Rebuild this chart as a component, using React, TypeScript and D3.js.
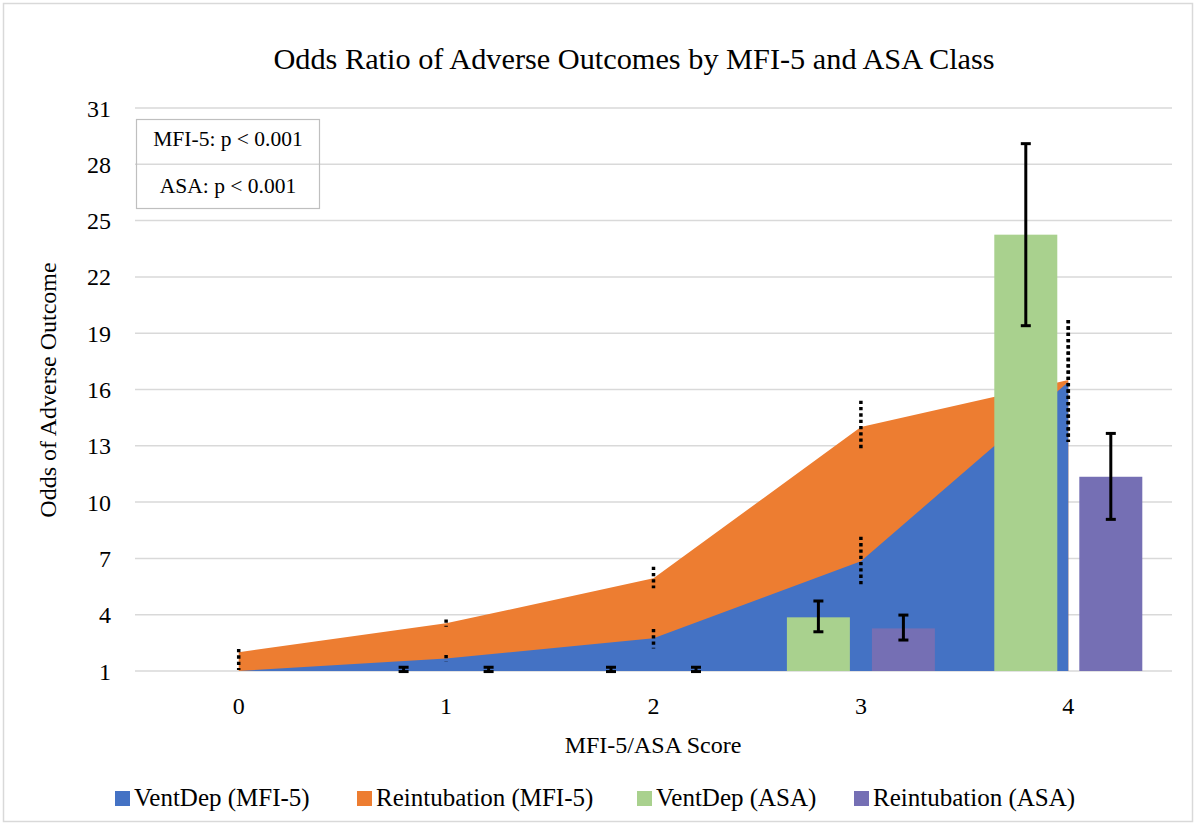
import React from "react";
import * as d3 from "d3";

const categories = ["0", "1", "2", "3", "4"];
const yTicks = [1, 4, 7, 10, 13, 16, 19, 22, 25, 28, 31];

// MFI-5 series (areas)
const ventDepMFI = [1, 1.67, 2.74, 6.85, 16.4];
const ventDepMFILow: (number | null)[] = [null, 1.5, 2.2, 5.58, 13.2];
const ventDepMFIHigh: (number | null)[] = [null, 1.85, 3.24, 8.15, 19.7];
const reintMFI = [2.0, 3.54, 5.94, 14.0, 16.5];
const reintMFILow: (number | null)[] = [1.05, 3.36, 5.41, 12.8, 13.2];
const reintMFIHigh: (number | null)[] = [2.17, 3.75, 6.56, 15.4, 19.7];

// ASA series (bars)
const ventDepASA: (number | null)[] = [null, 1, 1, 3.86, 24.25];
const ventDepASALow: (number | null)[] = [null, 0.97, 0.97, 3.09, 19.4];
const ventDepASAHigh: (number | null)[] = [null, 1.2, 1.2, 4.73, 29.1];
const reintASA: (number | null)[] = [null, 1, 1, 3.27, 11.35];
const reintASALow: (number | null)[] = [null, 0.97, 0.97, 2.65, 9.08];
const reintASAHigh: (number | null)[] = [null, 1.2, 1.2, 3.98, 13.66];

const seriesNames = ["VentDep (MFI-5)", "Reintubation (MFI-5)", "VentDep (ASA)", "Reintubation (ASA)"];
const seriesColors = ["#4472C4", "#ED7D31", "#A9D18E", "#756FB4"];
const annotations = ["MFI-5: p < 0.001", "ASA: p < 0.001"];

const FONT = "'Liberation Serif', 'Times New Roman', serif";

export default function App() {
  const W = 1200;
  const H = 827;
  const x = d3.scaleBand<string>().domain(categories).range([135, 1172]).padding(0);
  const y = d3.scaleLinear().domain([1, 31]).range([671, 108]);
  const xSub = d3
    .scaleBand<string>()
    .domain(["VentDep (ASA)", "Reintubation (ASA)"])
    .range([-74, 74])
    .paddingInner(0.259)
    .paddingOuter(0);
  const cx = (i: number) => (x(categories[i]) as number) + x.bandwidth() / 2;

  const area = d3
    .area<number>()
    .x((_, i) => cx(i))
    .y0(y(1))
    .y1((d) => y(d));

  const mfiSeries = [
    { vals: reintMFI, lo: reintMFILow, hi: reintMFIHigh, color: seriesColors[1] },
    { vals: ventDepMFI, lo: ventDepMFILow, hi: ventDepMFIHigh, color: seriesColors[0] },
  ];
  const asaSeries = [
    { name: "VentDep (ASA)", vals: ventDepASA, lo: ventDepASALow, hi: ventDepASAHigh, color: seriesColors[2] },
    { name: "Reintubation (ASA)", vals: reintASA, lo: reintASALow, hi: reintASAHigh, color: seriesColors[3] },
  ];

  const legendX = [115, 357, 637, 854];
  const bw = xSub.bandwidth();

  return (
    <svg width={W} height={H} style={{ position: "absolute", left: 0, top: 0 }} fontFamily={FONT}>
      <rect x={3.5} y={3.5} width={1189} height={818} fill="#fff" stroke="#D9D9D9" strokeWidth={1.5} />
      <text x={634} y={69} textAnchor="middle" fontSize={30.3} fill="#000">
        Odds Ratio of Adverse Outcomes by MFI-5 and ASA Class
      </text>
      {/* gridlines */}
      {yTicks.map((t) => (
        <line key={t} x1={135} x2={1172} y1={y(t)} y2={y(t)} stroke="#D9D9D9" strokeWidth={1.5} />
      ))}
      {yTicks.map((t) => (
        <text key={"l" + t} x={111} y={y(t) + 8.5} textAnchor="end" fontSize={24} fill="#000">
          {t}
        </text>
      ))}
      {/* annotation box */}
      <rect x={136.5} y={119.5} width={183} height={89} fill="none" stroke="#BFBFBF" strokeWidth={1.2} />
      {annotations.map((a, i) => (
        <text key={a} x={228} y={146 + i * 47} textAnchor="middle" fontSize={21.5} fill="#000">
          {a}
        </text>
      ))}
      {/* areas */}
      {mfiSeries.map((s, i) => (
        <path key={i} d={area(s.vals) || ""} fill={s.color} />
      ))}
      {/* bars */}
      {asaSeries.map((s) =>
        s.vals.map((v, i) =>
          v == null ? null : (
            <rect
              key={s.name + i}
              x={cx(i) + (xSub(s.name) as number)}
              y={y(v)}
              width={bw}
              height={y(1) - y(v)}
              fill={s.color}
            />
          )
        )
      )}
      {/* MFI error bars (dotted) */}
      {mfiSeries.map((s, si) =>
        s.vals.map((v, i) =>
          s.lo[i] == null || s.hi[i] == null ? null : (
            <line
              key={"me" + si + i}
              x1={cx(i)}
              x2={cx(i)}
              y1={y(s.hi[i] as number)}
              y2={y(s.lo[i] as number)}
              stroke="#000"
              strokeWidth={3.5}
              strokeDasharray="3.3 3"
            />
          )
        )
      )}
      {/* ASA error bars (solid with caps) */}
      {asaSeries.map((s) =>
        s.vals.map((v, i) => {
          if (v == null || s.lo[i] == null || s.hi[i] == null) return null;
          const xc = cx(i) + (xSub(s.name) as number) + bw / 2;
          const y1 = y(s.hi[i] as number);
          const y2 = y(s.lo[i] as number);
          return (
            <g key={"ae" + s.name + i} stroke="#000" strokeWidth={3}>
              <line x1={xc} x2={xc} y1={y1} y2={y2} />
              <line x1={xc - 5} x2={xc + 5} y1={y1} y2={y1} />
              <line x1={xc - 5} x2={xc + 5} y1={y2} y2={y2} />
            </g>
          );
        })
      )}
      {/* x tick labels */}
      {categories.map((c, i) => (
        <text key={"x" + c} x={cx(i)} y={714} textAnchor="middle" fontSize={24} fill="#000">
          {c}
        </text>
      ))}
      <text x={653} y={753} textAnchor="middle" fontSize={24} fill="#000">
        MFI-5/ASA Score
      </text>
      <text transform="translate(56,390) rotate(-90)" textAnchor="middle" fontSize={24} fill="#000">
        Odds of Adverse Outcome
      </text>
      {/* legend */}
      {seriesNames.map((n, i) => (
        <g key={n}>
          <rect x={legendX[i]} y={791} width={15} height={15} fill={seriesColors[i]} />
          <text x={legendX[i] + 19} y={806} fontSize={25} fill="#000">
            {n}
          </text>
        </g>
      ))}
    </svg>
  );
}
